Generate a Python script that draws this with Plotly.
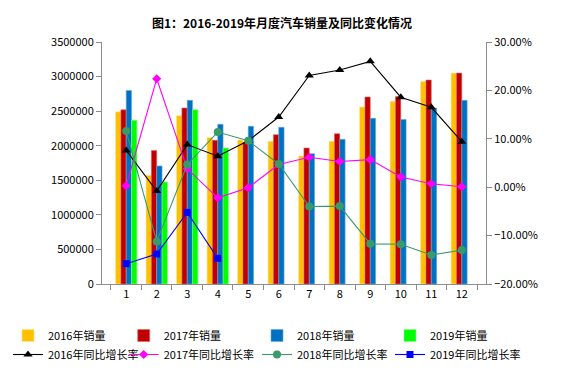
import plotly.graph_objects as go

months = ["1", "2", "3", "4", "5", "6", "7", "8", "9", "10", "11", "12"]

sales_2016 = [2490000, 1572000, 2435000, 2120000, 2083000, 2063000, 1851000, 2063000, 2560000, 2642000, 2930000, 3050000]
sales_2017 = [2520000, 1930000, 2545000, 2078000, 2049000, 2160000, 1967000, 2174000, 2705000, 2710000, 2950000, 3050000]
sales_2018 = [2800000, 1707000, 2656000, 2310000, 2280000, 2266000, 1885000, 2092000, 2396000, 2380000, 2545000, 2656000]
sales_2019 = [2370000, 1475000, 2520000, 1967000, None, None, None, None, None, None, None, None]

growth_2016 = [0.076, -0.008, 0.088, 0.064, 0.096, 0.145, 0.231, 0.242, 0.260, 0.186, 0.165, 0.094]
growth_2017 = [0.003, 0.224, 0.038, -0.022, -0.001, 0.047, 0.062, 0.053, 0.057, 0.021, 0.007, 0.001]
growth_2018 = [0.116, -0.112, 0.047, 0.114, 0.096, 0.048, -0.040, -0.039, -0.117, -0.118, -0.140, -0.130]
growth_2019 = [-0.158, -0.138, -0.052, -0.147, None, None, None, None, None, None, None, None]

font_family = "Noto Sans CJK SC, DejaVu Sans, sans-serif"

fig = go.Figure()

legend_ids = ["legend", "legend2", "legend3", "legend4"]

bar_specs = [
    ("2016年销量", sales_2016, "#FFC000", "#FFE699"),
    ("2017年销量", sales_2017, "#C00000", "#E06666"),
    ("2018年销量", sales_2018, "#0070C0", "#66A9DD"),
    ("2019年销量", sales_2019, "#00FF00", "#80FF80"),
]
line_specs = [
    ("2016年同比增长率", growth_2016, "#000000", "triangle-up", 8),
    ("2017年同比增长率", growth_2017, "#FF00FF", "diamond", 7),
    ("2018年同比增长率", growth_2018, "#3A9A6A", "circle", 8),
    ("2019年同比增长率", growth_2019, "#0000FF", "square", 7),
]

for i, (name, vals, col, edge) in enumerate(bar_specs):
    fig.add_trace(go.Bar(
        x=months, y=vals, name=name,
        marker=dict(color=col, line=dict(color=edge, width=0.6)),
        yaxis="y", legend=legend_ids[i],
    ))

for i, (name, vals, col, sym, sz) in enumerate(line_specs):
    fig.add_trace(go.Scatter(
        x=months, y=vals, name=name, mode="lines+markers",
        line=dict(color=col, width=1.1),
        marker=dict(color=col, symbol=sym, size=sz),
        yaxis="y2", legend=legend_ids[i],
    ))

plot_l, plot_w = 94, 384
text_starts = [30, 163.7, 297, 430]
legend_layouts = {}
for lid, tx in zip(legend_ids, text_starts):
    legend_layouts[lid] = dict(
        orientation="v", xref="paper", yref="container",
        x=(tx - 48 - plot_l) / plot_w, xanchor="left",
        y=1 - 313 / 369, yanchor="top",
        font=dict(size=11, family=font_family),
        tracegroupgap=0, itemwidth=30,
        bgcolor="rgba(0,0,0,0)",
    )

fig.update_layout(
    width=567, height=369,
    margin=dict(l=94, r=89, t=34, b=93),
    paper_bgcolor="white", plot_bgcolor="white",
    font=dict(family=font_family, size=11, color="#000000"),
    barmode="group", bargap=0.3, bargroupgap=0,
    title=dict(
        text="<b>图1：2016-2019年月度汽车销量及同比变化情况</b>",
        x=274 / 567, xanchor="center", xref="container",
        y=1 - 16 / 369, yanchor="middle", yref="container",
        font=dict(size=12, family=font_family, color="#000000"),
    ),
    xaxis=dict(
        type="category", showline=True, linecolor="#8C8C8C", linewidth=1,
        ticks="outside", tickson="boundaries", ticklen=5, tickcolor="#8C8C8C",
        showgrid=False, tickfont=dict(size=11),
    ),
    yaxis=dict(
        range=[0, 3500000], dtick=500000, tickformat="d",
        showline=True, linecolor="#8C8C8C", linewidth=1,
        ticks="outside", ticklen=5, tickcolor="#8C8C8C",
        showgrid=False, zeroline=False, tickfont=dict(size=11),
    ),
    yaxis2=dict(
        range=[-0.2, 0.3], dtick=0.1, tickformat=".2%",
        overlaying="y", side="right",
        showline=True, linecolor="#8C8C8C", linewidth=1,
        ticks="outside", ticklen=5, tickcolor="#8C8C8C",
        showgrid=False, zeroline=False, tickfont=dict(size=11),
    ),
    showlegend=True,
    **legend_layouts,
)

fig.write_html("out.html")
